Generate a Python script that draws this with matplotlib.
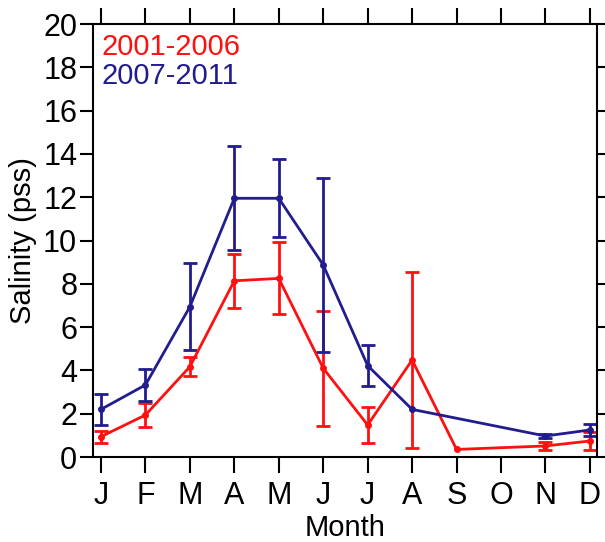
import numpy as np
import matplotlib.pyplot as plt

plt.rcParams['font.family'] = ['Liberation Sans', 'DejaVu Sans']

months = ["J", "F", "M", "A", "M", "J", "J", "A", "S", "O", "N", "D"]

# 2001-2006 (nan = no data)
sal_a = [0.94, 1.94, 4.17, 8.14, 8.25, 4.10, 1.48, 4.48, 0.35, np.nan, 0.51, 0.74]
err_a = [0.28, 0.55, 0.43, 1.25, 1.66, 2.65, 0.82, 4.08, 0.0, np.nan, 0.20, 0.43]

# 2007-2011
sal_b = [2.20, 3.33, 6.94, 11.95, 11.95, 8.87, 4.22, 2.20, np.nan, np.nan, 0.97, 1.25]
err_b = [0.70, 0.74, 2.00, 2.40, 1.80, 4.00, 0.95, 0.0, np.nan, np.nan, 0.10, 0.27]

red = "#ff1010"
blue = "#221c8e"

fig = plt.figure(figsize=(6.05, 5.42), dpi=100)
ax = fig.add_axes([0.1537, 0.1568, 0.8331, 0.7989])

x = np.arange(len(months))
for vals, errs, col in [(sal_a, err_a, red), (sal_b, err_b, blue)]:
    vals = np.array(vals)
    errs = np.array(errs)
    ok = ~np.isnan(vals)
    e = np.where(errs[ok] > 0, errs[ok], np.nan)
    ax.errorbar(x[ok], vals[ok], yerr=e, color=col, lw=2, marker="o", ms=4,
                capsize=5, capthick=2, elinewidth=2)

ax.set_xlim(-0.18, 11.16)
ax.set_ylim(0, 20)
ax.set_xticks(x)
ax.set_xticklabels(months)
ax.set_yticks(range(0, 21, 2))

for s in ax.spines.values():
    s.set_linewidth(1.5)
ax.tick_params(axis="both", direction="out", width=1.5, labelsize=22)
ax.tick_params(axis="x", length=11.5, top=True, pad=6)
ax.tick_params(axis="y", length=9.4, right=True, pad=2)

ax.set_xlabel("Month", fontsize=21, labelpad=2)
ax.set_ylabel("Salinity (pss)", fontsize=21, labelpad=4)

ax.text(0.016, 0.928, "2001-2006", color=red, fontsize=21, transform=ax.transAxes, va="baseline")
ax.text(0.016, 0.861, "2007-2011", color=blue, fontsize=21, transform=ax.transAxes, va="baseline")

fig.savefig("out.png", dpi=100)
